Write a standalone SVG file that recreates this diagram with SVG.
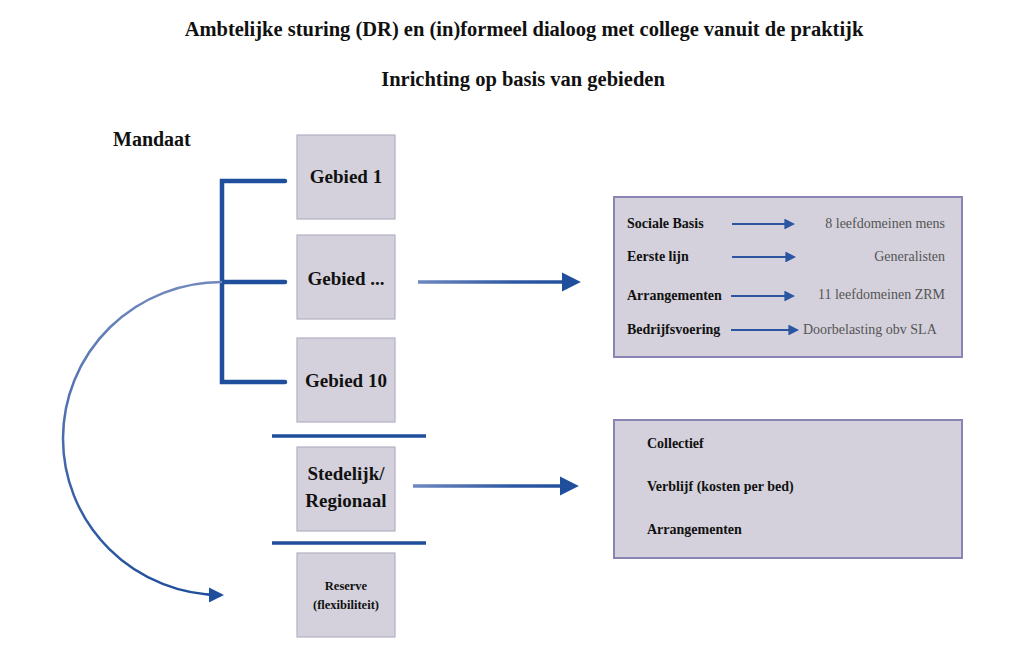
<svg xmlns="http://www.w3.org/2000/svg" width="1024" height="666" viewBox="0 0 1024 666">
<defs>
<style>
.t{font-family:"Liberation Serif","Times New Roman",serif;font-weight:bold;fill:#111;}
.g{font-family:"Liberation Serif","Times New Roman",serif;fill:#555;font-size:14px;}
.box{fill:#d4d1dc;stroke:#b3b0c4;stroke-width:1.2;}
.panel{fill:#d4d1dc;stroke:#8884b4;stroke-width:2;}
.br{fill:none;stroke:#1f4e9c;stroke-width:4.5;stroke-linecap:round;}
.sep{fill:none;stroke:#1f4e9c;stroke-width:3.5;}
.sa{fill:none;stroke:#2a55a0;stroke-width:1.8;}
</style>
<linearGradient id="grad1" gradientUnits="userSpaceOnUse" x1="418" y1="0" x2="580" y2="0">
<stop offset="0" stop-color="#6f88c0"/>
<stop offset="0.6" stop-color="#2d58a3"/>
<stop offset="1" stop-color="#1f4e9c"/>
</linearGradient>
<linearGradient id="grad2" gradientUnits="userSpaceOnUse" x1="413" y1="0" x2="578" y2="0">
<stop offset="0" stop-color="#6f88c0"/>
<stop offset="0.6" stop-color="#2d58a3"/>
<stop offset="1" stop-color="#1f4e9c"/>
</linearGradient>
<linearGradient id="cgrad" gradientUnits="userSpaceOnUse" x1="0" y1="282" x2="0" y2="600">
<stop offset="0" stop-color="#7088bd"/>
<stop offset="1" stop-color="#1f4e9c"/>
</linearGradient>
<marker id="ah" viewBox="0 0 10 10" refX="8" refY="5" markerWidth="5.5" markerHeight="5.5" orient="auto" markerUnits="strokeWidth">
<path d="M0,0 L10,5 L0,10 z" fill="#1f4e9c"/>
</marker>
<marker id="ahs" viewBox="0 0 10 10" refX="8" refY="5" markerWidth="6" markerHeight="6" orient="auto" markerUnits="strokeWidth">
<path d="M0,0 L10,5 L0,10 z" fill="#2a55a0"/>
</marker>
<marker id="ahc" viewBox="0 0 10 10" refX="8" refY="5" markerWidth="6" markerHeight="6" orient="auto" markerUnits="strokeWidth">
<path d="M0,0 L10,5 L0,10 z" fill="#1f4e9c"/>
</marker>
</defs>
<rect width="1024" height="666" fill="#fff"/>

<g id="titles">
<text class="t" x="524" y="36" font-size="20.5" text-anchor="middle">Ambtelijke sturing (DR) en (in)formeel dialoog met college vanuit de praktijk</text>
<text class="t" x="523" y="86" font-size="20.5" text-anchor="middle">Inrichting op basis van gebieden</text>
<text class="t" x="113" y="146" font-size="20">Mandaat</text>
</g>

<g id="connectors">
<path class="br" d="M285,181 H222 V382 H285 M222,282 H285"/>
<path class="sep" d="M272,436 H426 M272,543 H426"/>
<path d="M418,282 H577" stroke="url(#grad1)" stroke-width="3.5" fill="none" marker-end="url(#ah)"/>
<path d="M413,486 H575" stroke="url(#grad2)" stroke-width="3.5" fill="none" marker-end="url(#ah)"/>
<path d="M222,282 A158,156 0 0 0 221,595" stroke="url(#cgrad)" stroke-width="2.5" fill="none" marker-end="url(#ahc)"/>
</g>

<g id="gebied1"><rect class="box" x="297" y="135" width="98" height="84"/><text class="t" x="346" y="183" font-size="19" text-anchor="middle">Gebied 1</text></g>
<g id="gebiedx"><rect class="box" x="297" y="235" width="98" height="84"/><text class="t" x="346" y="285" font-size="19" text-anchor="middle">Gebied ...</text></g>
<g id="gebied10"><rect class="box" x="297" y="338" width="98" height="84"/><text class="t" x="346" y="387" font-size="19" text-anchor="middle">Gebied 10</text></g>
<g id="stedelijk"><rect class="box" x="297" y="447" width="98" height="84"/><text class="t" x="346" y="480" font-size="19" text-anchor="middle">Stedelijk/</text><text class="t" x="346" y="507" font-size="19" text-anchor="middle">Regionaal</text></g>
<g id="reserve"><rect class="box" x="297" y="553" width="98" height="84"/><text class="t" x="346" y="590" font-size="12.5" text-anchor="middle">Reserve</text><text class="t" x="346" y="609" font-size="12.5" text-anchor="middle">(flexibiliteit)</text></g>

<g id="panel1">
<rect class="panel" x="614" y="197" width="348" height="160"/>
<text class="t" x="627" y="228" font-size="14">Sociale Basis</text>
<text class="t" x="627" y="261" font-size="14">Eerste lijn</text>
<text class="t" x="627" y="300" font-size="14">Arrangementen</text>
<text class="t" x="627" y="334" font-size="14">Bedrijfsvoering</text>
<path class="sa" d="M732,224 H793" marker-end="url(#ahs)"/>
<path class="sa" d="M732,257 H794" marker-end="url(#ahs)"/>
<path class="sa" d="M731,296 H793" marker-end="url(#ahs)"/>
<path class="sa" d="M731,330 H797" marker-end="url(#ahs)"/>
<text class="g" x="945" y="228" text-anchor="end">8 leefdomeinen mens</text>
<text class="g" x="945" y="261" text-anchor="end">Generalisten</text>
<text class="g" x="945" y="299" text-anchor="end">11 leefdomeinen ZRM</text>
<text class="g" x="803" y="334">Doorbelasting obv SLA</text>
</g>

<g id="panel2">
<rect class="panel" x="614" y="420" width="348" height="138"/>
<text class="t" x="647" y="448" font-size="14">Collectief</text>
<text class="t" x="647" y="491" font-size="14">Verblijf (kosten per bed)</text>
<text class="t" x="647" y="534" font-size="14">Arrangementen</text>
</g>
</svg>
